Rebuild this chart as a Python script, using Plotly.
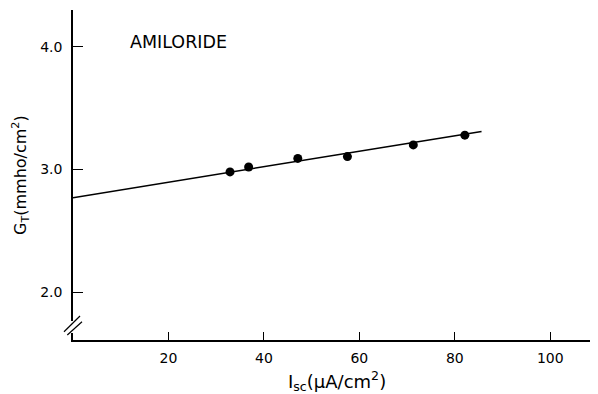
import plotly.graph_objects as go

# Data
isc = [32.9, 36.8, 47.1, 57.5, 71.3, 82.1]
gt = [2.98, 3.02, 3.09, 3.105, 3.20, 3.28]
fit_x = [0, 85.6]
fit_y = [2.77, 3.31]
x_ticks = [20, 40, 60, 80, 100]
y_ticks = [2.0, 3.0, 4.0]
y_tick_labels = ["2.0", "3.0", "4.0"]

FONT = "DejaVu Sans, Liberation Sans, sans-serif"

# plot-area geometry in page pixels (page body has an 8px offset)
PL, PR, PT, PB = 73, 598, 10, 340
PW, PH = PR - PL, PB - PT


def px(xp):
    return (xp - PL) / PW


def py(yp):
    return (PB - yp) / PH


fig = go.Figure()
fig.add_trace(go.Scatter(x=fit_x, y=fit_y, mode="lines",
                         line=dict(color="black", width=1.5), showlegend=False))
fig.add_trace(go.Scatter(x=isc, y=gt, mode="markers",
                         marker=dict(color="black", size=9), showlegend=False))

fig.update_layout(
    width=590, height=386,
    margin=dict(l=65, r=0, t=2, b=54),
    paper_bgcolor="white", plot_bgcolor="white",
    font=dict(family=FONT, color="black", size=14),
    xaxis=dict(range=[0, 110], showgrid=False, zeroline=False,
               showline=True, linecolor="black", linewidth=1.5,
               ticks="inside", ticklen=8, tickwidth=1.2, tickcolor="black",
               tickvals=x_ticks, ticktext=[str(v) for v in x_ticks],
               tickfont=dict(size=14), ticklabelstandoff=4),
    yaxis=dict(range=[1.61, 4.30], showgrid=False, zeroline=False,
               showline=True, linecolor="black", linewidth=1.5,
               ticks="inside", ticklen=10, tickwidth=1.2, tickcolor="black",
               tickvals=y_ticks, ticktext=y_tick_labels,
               tickfont=dict(size=14), ticklabelstandoff=6),
)

# axis break on the y axis: gap + two slashes
fig.add_shape(type="line", xref="paper", yref="paper", layer="above",
              x0=0, x1=0, y0=py(333), y1=py(321),
              line=dict(color="white", width=4))
for (xa, ya, xb, yb) in [(64, 331.7, 80, 316), (67.3, 335, 82, 321.7)]:
    fig.add_shape(type="line", xref="paper", yref="paper", layer="above",
                  x0=px(xa), y0=py(ya), x1=px(xb), y1=py(yb),
                  line=dict(color="black", width=1.2))

fig.add_annotation(text="AMILORIDE", xref="paper", yref="paper",
                   x=px(128), y=py(42), xanchor="left", yanchor="middle",
                   showarrow=False, font=dict(size=17.5, family=FONT))
fig.add_annotation(text="G<sub>T</sub>(mmho/cm<sup>2</sup>)", xref="paper", yref="paper",
                   x=px(20), y=py(175), xanchor="center", yanchor="middle",
                   textangle=-90, showarrow=False, font=dict(size=16, family=FONT))
fig.add_annotation(text="I<sub>sc</sub>(μA/cm<sup>2</sup>)", xref="paper", yref="paper",
                   x=px(337), y=py(381), xanchor="center", yanchor="middle",
                   showarrow=False, font=dict(size=18, family=FONT))

fig.write_html("out.html")
